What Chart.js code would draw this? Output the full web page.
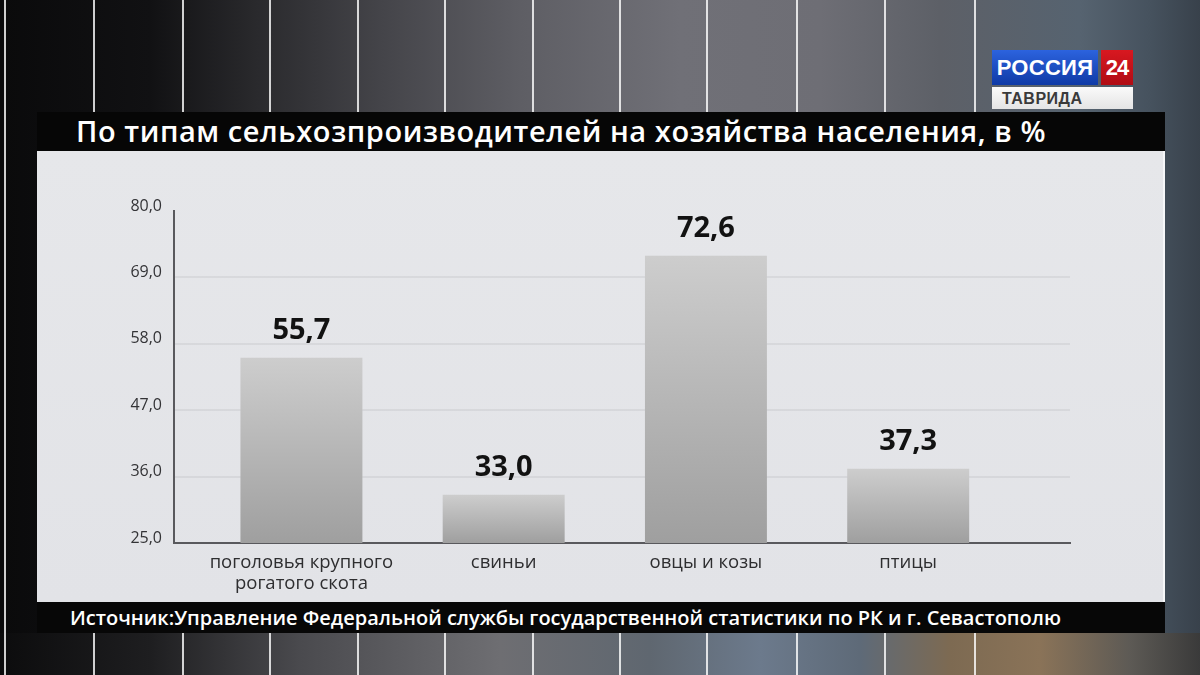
<!DOCTYPE html>
<html><head><meta charset="utf-8">
<script src="https://cdn.jsdelivr.net/npm/chart.js@4/dist/chart.umd.min.js"></script>
<style>
html,body{margin:0;padding:0;width:1200px;height:675px;overflow:hidden;}
body{position:relative;font-family:"Open Sans",sans-serif;
 background:linear-gradient(90deg,#0a0a0b 0px,#111113 150px,#28282b 250px,#444449 380px,#5e5e64 520px,#707077 680px,#6e6e75 820px,#5d6067 940px,#566370 1080px,#46525e 1150px,#38414b 1200px);}
.stripe{position:absolute;top:0;height:675px;width:2px;background:rgba(255,255,255,0.8);}
#bottomband{position:absolute;left:0;top:633px;width:1200px;height:42px;
 background:linear-gradient(90deg,#0c0c0d 0px,#1e1e20 150px,#4a4a4e 300px,#6e6e72 500px,#5f6770 650px,#6c7a8c 760px,#5e6a78 860px,#7d6a52 950px,#8a7358 1040px,#5d5a55 1130px,#3a3a3a 1200px);}
#titlebar{position:absolute;left:37px;top:112px;width:1128px;height:39px;background:#060606;}
#title{position:absolute;left:39px;top:0;line-height:38px;color:#fff;font-size:29px;font-weight:600;white-space:nowrap;}
#panel{position:absolute;left:37px;top:151px;width:1126px;height:451px;background:linear-gradient(#e6e7ea,#e2e3e7);border-right:2px solid #f6f7f9;}
#footer{position:absolute;left:37px;top:602px;width:1128px;height:31px;background:#070707;}
#source{position:absolute;left:33px;top:0;line-height:32px;color:#fff;font-size:20px;font-weight:600;white-space:nowrap;}
.logo{position:absolute;box-sizing:border-box;font-family:"Liberation Sans",Arial,sans-serif;font-weight:bold;white-space:nowrap;}
#lb{left:992px;top:50px;width:106px;height:35px;background:linear-gradient(#2c63de,#0f3aa6);color:#fff;font-size:22px;line-height:35px;text-align:center;letter-spacing:0.3px;}
#lr{left:1101px;top:50px;width:32px;height:35px;background:linear-gradient(#d81820,#b00c14);color:#fff;font-size:22px;line-height:35px;text-align:center;letter-spacing:-1px;}
#lw{left:992px;top:87px;width:141px;height:22px;background:linear-gradient(#fafafa,#e4e4e4);color:#3a3a3a;font-size:16px;line-height:23px;padding-left:10px;letter-spacing:0.5px;}
#chartwrap{position:absolute;left:0;top:0;width:1200px;height:675px;}
</style></head>
<body>
<div id="bottomband"></div>
<div class="stripe" style="left:4px"></div>
<div class="stripe" style="left:93px"></div>
<div class="stripe" style="left:182px"></div>
<div class="stripe" style="left:269px"></div>
<div class="stripe" style="left:357px"></div>
<div class="stripe" style="left:444px"></div>
<div class="stripe" style="left:532px"></div>
<div class="stripe" style="left:619px"></div>
<div class="stripe" style="left:706px"></div>
<div class="stripe" style="left:796px"></div>
<div class="stripe" style="left:884px"></div>
<div class="stripe" style="left:974px"></div>
<div class="logo" id="lb">РОССИЯ</div>
<div class="logo" id="lr">24</div>
<div class="logo" id="lw">ТАВРИДА</div>
<div id="titlebar"><div id="title">По типам сельхозпроизводителей на хозяйства населения, в %</div></div>
<div id="panel"></div>
<div id="footer"><div id="source">Источник:Управление Федеральной службы государственной статистики по РК и г. Севастополю</div></div>
<div id="chartwrap"><canvas id="c" width="1200" height="675"></canvas></div>
<script>
const categories = [["поголовья крупного","рогатого скота"], "свиньи", "овцы и козы", "птицы"];
const values = [55.7, 33.0, 72.6, 37.3];
const yTicks = [25, 36, 47, 58, 69, 80];

function fmt(v){ return Number(v).toFixed(1).replace('.', ','); }

function fitWidth(el, target){
  el.style.letterSpacing = '0px';
  const w = el.getBoundingClientRect().width;
  const n = el.textContent.length;
  el.style.letterSpacing = ((target - w) / n) + 'px';
}
function fitAll(){
  fitWidth(document.getElementById('title'), 970);
  fitWidth(document.getElementById('source'), 991);
}
fitAll();
if (document.fonts && document.fonts.ready) document.fonts.ready.then(fitAll);

const valueLabels = {
  id: 'valueLabels',
  afterDatasetsDraw(chart){
    const ctx = chart.ctx;
    const meta = chart.getDatasetMeta(0);
    ctx.save();
    ctx.font = 'bold 29px "Open Sans", sans-serif';
    ctx.fillStyle = '#121212';
    ctx.textAlign = 'center';
    ctx.textBaseline = 'middle';
    meta.data.forEach((bar, i) => {
      ctx.fillText(fmt(values[i]), bar.x, bar.y - 27);
    });
    ctx.restore();
  }
};

new Chart(document.getElementById('c'), {
  type: 'bar',
  data: {
    datasets: [{
      data: values.map((v, i) => ({x: i, y: v})),
      backgroundColor: (c) => {
        const chart = c.chart;
        const area = chart.chartArea;
        if (!area || !c.raw) return '#b5b5b5';
        const top = chart.scales.y.getPixelForValue(c.raw.y);
        const g = chart.ctx.createLinearGradient(0, top, 0, area.bottom);
        g.addColorStop(0, '#cdcdcd');
        g.addColorStop(1, '#9f9f9f');
        return g;
      },
      borderWidth: 0,
      barPercentage: 0.603,
      categoryPercentage: 1
    }]
  },
  options: {
    responsive: false,
    animation: false,
    events: [],
    layout: {padding: {left: 0, top: 211, right: 130, bottom: 0}},
    plugins: {legend: {display: false}, tooltip: {enabled: false}, title: {display: false}},
    scales: {
      x: {
        type: 'linear',
        min: -0.63,
        max: 3.8,
        bounds: 'data',
        offset: false,
        grid: {display: false, drawTicks: false, offset: false},
        border: {display: true, color: '#59595d', width: 2},
        afterBuildTicks: (s) => { s.ticks = categories.map((c, i) => ({value: i})); },
        afterFit: (s) => { s.height = 132; },
        ticks: {
          autoSkip: false, maxRotation: 0, minRotation: 0, padding: 9,
          callback: (v) => categories[v],
          color: '#2e2e30',
          font: {family: '"Open Sans", sans-serif', size: 18.5, lineHeight: 1.15}
        }
      },
      y: {
        min: 25,
        max: 80,
        afterBuildTicks: (s) => { s.ticks = yTicks.map(v => ({value: v})); },
        afterFit: (s) => { s.width = 174; },
        grid: {
          drawTicks: false,
          lineWidth: 2,
          color: (c) => (c.tick && (c.tick.value === 80 || c.tick.value === 25)) ? 'rgba(0,0,0,0)' : 'rgba(120,120,130,0.12)'
        },
        border: {display: true, color: '#59595d', width: 2},
        ticks: {
          padding: 12,
          labelOffset: -5,
          callback: (v) => fmt(v),
          color: '#333336',
          font: {family: '"Open Sans", sans-serif', size: 16}
        }
      }
    }
  },
  plugins: [valueLabels]
});
</script>
</body></html>
